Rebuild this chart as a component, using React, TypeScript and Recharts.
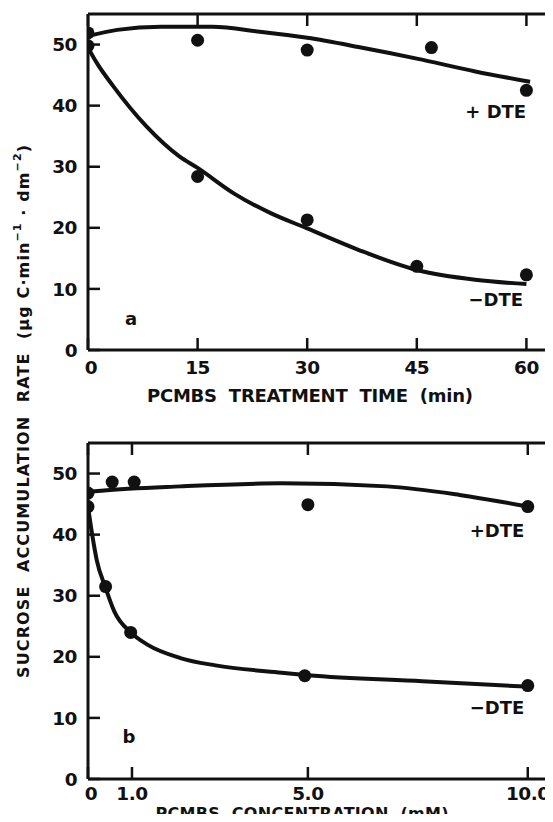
import React from "react";
import { ComposedChart, Line, Scatter, XAxis, YAxis, ReferenceDot } from "recharts";

// axis ticks
const timeTicks = [0, 15, 30, 45, 60];
const concTicks = [0, 1, 5, 10];
const rateTicks = [0, 10, 20, 30, 40, 50];

// panel a: rate vs PCMBS treatment time (min)
const timePlusPts = [
  { x: 0, y: 51.9 }, { x: 15, y: 50.7 }, { x: 30, y: 49.1 }, { x: 47, y: 49.5 }, { x: 60, y: 42.5 },
];
const timeMinusPts = [
  { x: 0, y: 49.8 }, { x: 15, y: 28.4 }, { x: 30, y: 21.3 }, { x: 45, y: 13.7 }, { x: 60, y: 12.3 },
];
// hand-drawn fitted curves
const timePlusFit = [
  { x: 0, y: 51.4 }, { x: 4, y: 52.4 }, { x: 10, y: 52.9 }, { x: 17, y: 52.9 }, { x: 23.5, y: 52.1 },
  { x: 30, y: 51.1 }, { x: 37, y: 49.6 }, { x: 45, y: 47.7 }, { x: 53, y: 45.6 }, { x: 60.5, y: 43.9 },
];
const timeMinusFit = [
  { x: 0, y: 49.5 }, { x: 1.2, y: 47.0 }, { x: 3.45, y: 43.2 }, { x: 8, y: 36.6 }, { x: 12.5, y: 31.7 },
  { x: 15, y: 29.8 }, { x: 20, y: 25.6 }, { x: 25, y: 22.4 }, { x: 30, y: 19.9 }, { x: 37, y: 16.4 },
  { x: 45, y: 13.1 }, { x: 53, y: 11.5 }, { x: 60, y: 10.8 },
];

// panel b: rate vs PCMBS concentration (mM)
const concPlusPts = [
  { x: 0, y: 46.8 }, { x: 0.55, y: 48.6 }, { x: 1.05, y: 48.6 }, { x: 5, y: 44.9 }, { x: 10, y: 44.6 },
];
const concMinusPts = [
  { x: 0, y: 44.6 }, { x: 0.4, y: 31.5 }, { x: 0.97, y: 24.0 }, { x: 4.93, y: 16.9 }, { x: 10, y: 15.3 },
];
const concPlusFit = [
  { x: 0, y: 47.0 }, { x: 0.3, y: 47.2 }, { x: 2.1, y: 47.9 }, { x: 4.4, y: 48.4 }, { x: 6.8, y: 47.9 },
  { x: 8.45, y: 46.5 }, { x: 10, y: 44.6 },
];
const concMinusFit = [
  { x: 0, y: 44.6 }, { x: 0.1, y: 39.8 }, { x: 0.2, y: 35.8 }, { x: 0.4, y: 31.3 }, { x: 0.6, y: 27.4 },
  { x: 0.97, y: 24.0 }, { x: 1.35, y: 22.0 }, { x: 2.1, y: 19.8 }, { x: 2.9, y: 18.6 }, { x: 4.4, y: 17.4 },
  { x: 5, y: 17.0 }, { x: 7.6, y: 16.0 }, { x: 10, y: 15.1 },
];

const ink = "#111";
const font = "'DejaVu Sans', 'Liberation Sans', sans-serif";
const noteStyle = { fill: ink, fontSize: 18, fontWeight: 700, fontFamily: font };
const TICK = 12; // inward tick length
const GAP_Y = 11; // axis to left labels

const dot = (p: any) => <circle cx={p.cx} cy={p.cy} r={6.5} fill={ink} />;

// ticks drawn inside the frame, like the original figure
const BottomTick = (fmt: (v: number) => string, gap: number) => (p: any) => (
  <g>
    <line x1={p.x} x2={p.x} y1={p.y - gap} y2={p.y - gap - TICK} stroke={ink} strokeWidth={2.5} />
    <text x={p.x + (p.payload.value === 0 ? 3 : 0)} y={p.y} dy="0.73em" textAnchor="middle" fill={ink}
      fontSize={18.5} fontWeight={700} fontFamily={font} letterSpacing={-0.5}>
      {fmt(p.payload.value)}
    </text>
  </g>
);
const LeftTick = (p: any) => (
  <g>
    <line x1={p.x + GAP_Y} x2={p.x + GAP_Y + TICK} y1={p.y} y2={p.y} stroke={ink} strokeWidth={2.5} />
    <text x={p.x} y={p.y} dy="0.36em" textAnchor="end" fill={ink} fontSize={18.5} fontWeight={700} fontFamily={font}
      letterSpacing={-0.5}>
      {p.payload.value}
    </text>
  </g>
);
const TopTick = (p: any) => <line x1={p.x} x2={p.x} y1={p.y} y2={p.y + TICK} stroke={ink} strokeWidth={2.5} />;
const RightTick = (p: any) => <line x1={p.x} x2={p.x - TICK} y1={p.y} y2={p.y} stroke={ink} strokeWidth={2.5} />;

type Note = { x: number; y: number; text: string };

function Panel(props: {
  top: number;
  height: number;
  marginTop: number;
  marginBottom: number;
  xMax: number;
  xTicks: number[];
  xFmt: (v: number) => string;
  labelGap: number;
  plusPts: { x: number; y: number }[];
  minusPts: { x: number; y: number }[];
  plusFit: { x: number; y: number }[];
  minusFit: { x: number; y: number }[];
  notes: Note[];
}) {
  const { top, height, marginTop, marginBottom, xMax, xTicks, xFmt, labelGap } = props;
  return (
    <div style={{ position: "absolute", left: 0, top, width: 580, height }}>
      <ComposedChart width={580} height={height} margin={{ top: marginTop, right: 28, bottom: marginBottom, left: 0 }}>
        <XAxis
          dataKey="x" type="number" domain={[0, xMax]} ticks={xTicks} interval={0} allowDataOverflow
          height={40} tickSize={0} tickMargin={labelGap} tickLine={false} stroke={ink}
          axisLine={{ strokeWidth: 3 }} tick={BottomTick(xFmt, labelGap)}
        />
        <XAxis
          xAxisId="top" orientation="top" dataKey="x" type="number" domain={[0, xMax]} ticks={xTicks}
          interval={0} allowDataOverflow height={1} tickSize={0} tickMargin={0} tickLine={false} stroke={ink}
          axisLine={{ strokeWidth: 3 }} tick={TopTick}
        />
        <YAxis
          dataKey="y" type="number" domain={[0, 55]} ticks={rateTicks} interval={0} allowDataOverflow
          width={80} tickSize={0} tickMargin={GAP_Y} tickLine={false} stroke={ink}
          axisLine={{ strokeWidth: 3 }} tick={LeftTick}
        />
        <YAxis
          yAxisId="right" orientation="right" dataKey="y" type="number" domain={[0, 55]} ticks={rateTicks}
          interval={0} allowDataOverflow width={1} tickSize={0} tickMargin={0} tickLine={false} stroke={ink}
          axisLine={{ strokeWidth: 3 }} tick={RightTick}
        />
        <Line data={props.plusFit} dataKey="y" type="monotone" dot={false} stroke={ink} strokeWidth={4} isAnimationActive={false} />
        <Line data={props.minusFit} dataKey="y" type="monotone" dot={false} stroke={ink} strokeWidth={4} isAnimationActive={false} />
        <Scatter data={props.plusPts} dataKey="y" shape={dot} isAnimationActive={false} />
        <Scatter data={props.minusPts} dataKey="y" shape={dot} isAnimationActive={false} />
        {props.notes.map((n) => (
          <ReferenceDot
            key={n.text} x={n.x} y={n.y} r={0} fill="none" stroke="none"
            label={{ value: n.text, position: "center", ...noteStyle }}
          />
        ))}
      </ComposedChart>
    </div>
  );
}

const fmtTime = (v: number) => String(v);
const fmtConc = (v: number) => (v === 0 ? "0" : v.toFixed(1));

export default function App() {
  return (
    <div style={{ position: "relative", width: 545, height: 814, overflow: "hidden", marginBottom: -8, background: "#fff" }}>
      <Panel
        top={0} height={400} marginTop={5} marginBottom={18} xMax={64.46} xTicks={timeTicks} xFmt={fmtTime}
        labelGap={10}
        plusPts={timePlusPts} minusPts={timeMinusPts} plusFit={timePlusFit} minusFit={timeMinusFit}
        notes={[
          { x: 55.8, y: 39.0, text: "+ DTE" },
          { x: 55.8, y: 8.2, text: "\u2212DTE" },
          { x: 5.9, y: 5.2, text: "a" },
        ]}
      />
      <Panel
        top={400} height={414} marginTop={34} marginBottom={3} xMax={10.71} xTicks={concTicks} xFmt={fmtConc}
        labelGap={7}
        plusPts={concPlusPts} minusPts={concMinusPts} plusFit={concPlusFit} minusFit={concMinusFit}
        notes={[
          { x: 9.3, y: 40.7, text: "+DTE" },
          { x: 9.3, y: 11.7, text: "\u2212DTE" },
          { x: 0.93, y: 6.9, text: "b" },
        ]}
      />
      <svg width={545} height={814} style={{ position: "absolute", left: 0, top: 0, pointerEvents: "none" }}>
        <g fontFamily={font} fontWeight={700} fill={ink}>
          <text
            transform="translate(15,403.5) rotate(-90)" textAnchor="middle" dominantBaseline="central"
            fontSize={16} textLength={533} lengthAdjust="spacing" style={{ whiteSpace: "pre" }}
          >
            {"SUCROSE  ACCUMULATION  RATE  (\u03bcg C\u00b7min"}
            <tspan dy={-6} fontSize={11}>{"\u22121"}</tspan>
            <tspan dy={6}>{" \u00b7 dm"}</tspan>
            <tspan dy={-6} fontSize={11}>{"\u22122"}</tspan>
            <tspan dy={6}>{")"}</tspan>
          </text>
          <text x={302} y={394} textAnchor="middle" fontSize={18} textLength={326} lengthAdjust="spacing" style={{ whiteSpace: "pre" }}>
            {"PCMBS  TREATMENT  TIME  (min)"}
          </text>
          <text x={294} y={811} textAnchor="middle" fontSize={16} textLength={293} lengthAdjust="spacing" style={{ whiteSpace: "pre" }}>
            {"PCMBS  CONCENTRATION  (mM)"}
          </text>
        </g>
      </svg>
    </div>
  );
}
